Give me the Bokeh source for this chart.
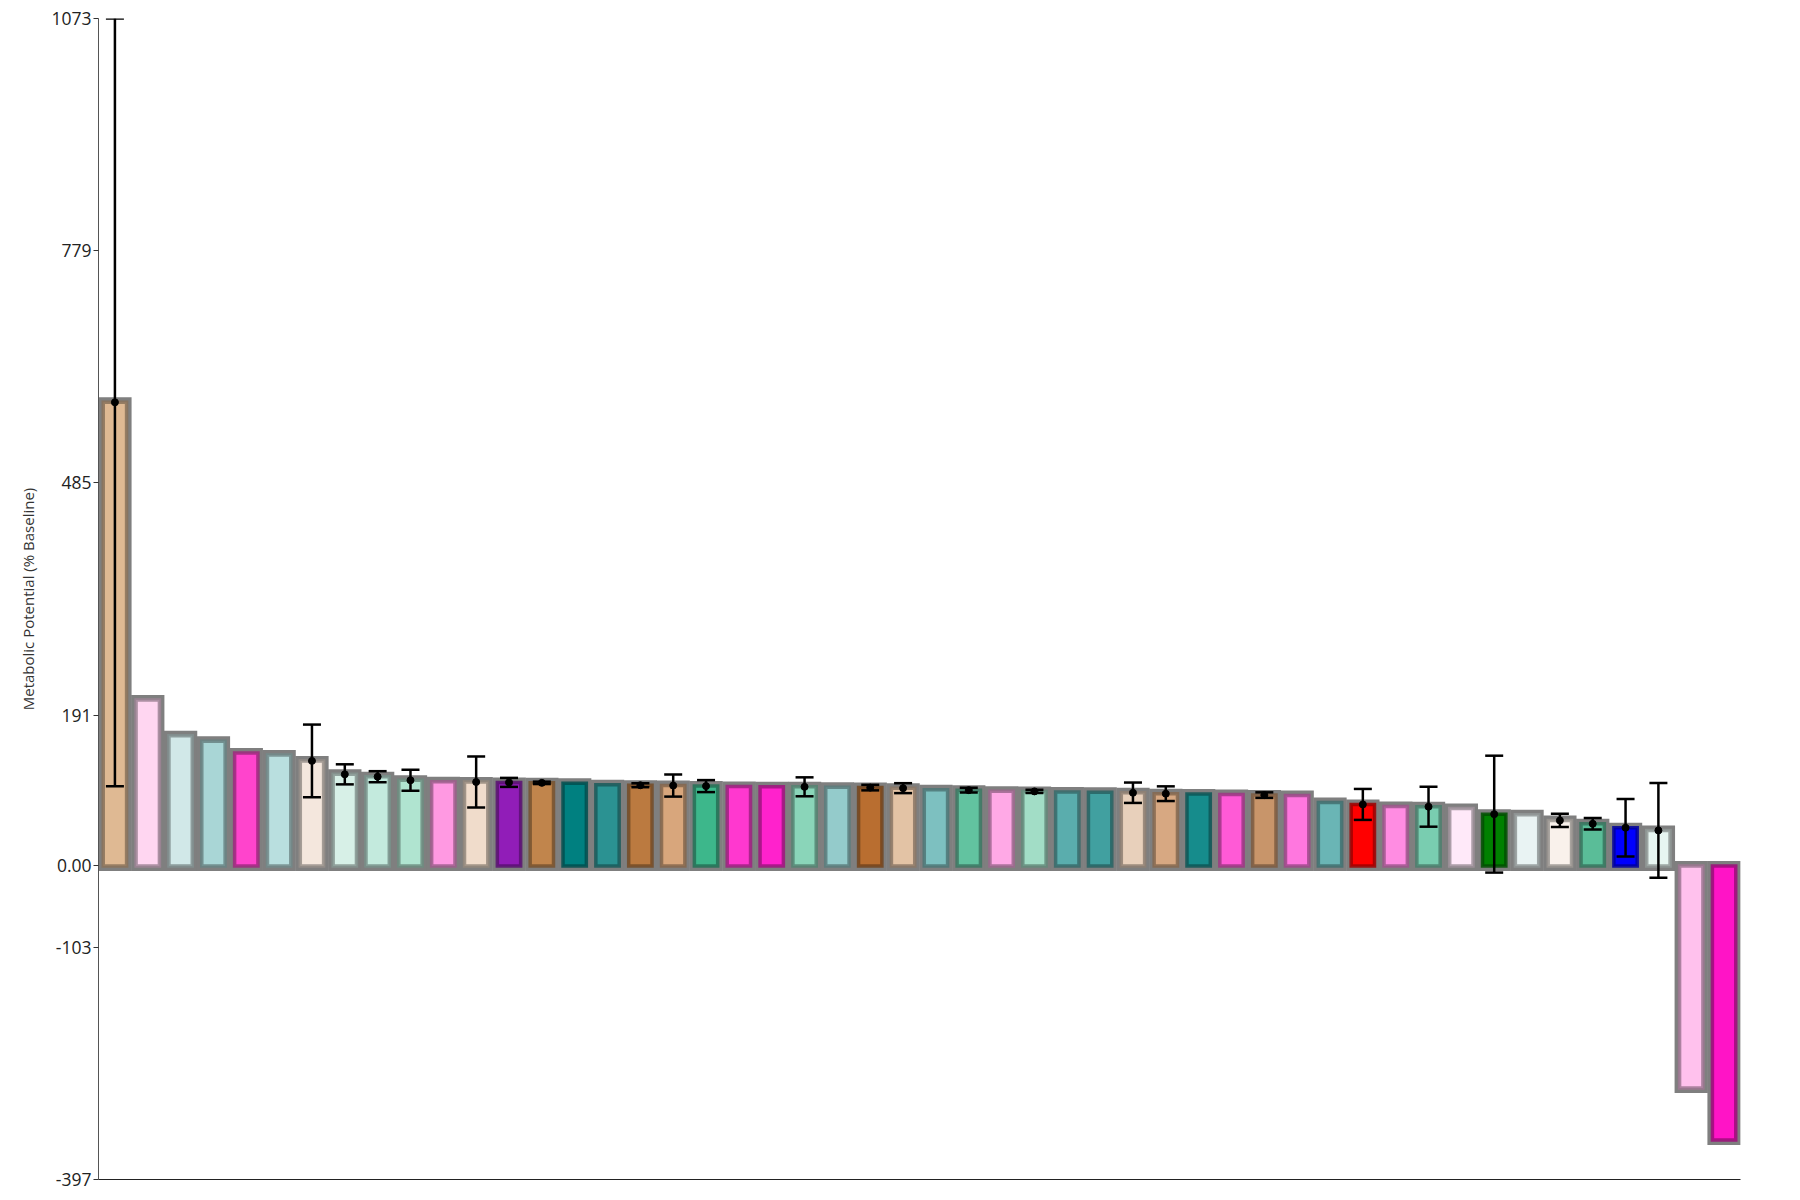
from bokeh.plotting import figure
from bokeh.models import ColumnDataSource, FixedTicker, Whisker, TeeHead, Range1d
from bokeh.embed import file_html
from bokeh.resources import INLINE

# ---- data ----
values = [587, 210, 165, 158, 143, 140.5, 133, 116, 113, 108.5,
          106.5, 106.3, 105.8, 105.2, 104.6, 102.8, 102.2, 101.8, 101.1, 100.7,
          100.4, 100.2, 99.6, 99.2, 98.5, 96.5, 96.0, 94.6, 94.4, 93.6,
          93.3, 92.7, 91.5, 91.0, 90.6, 89.7, 89.3, 80.4, 77.9, 75.4,
          75.0, 72.8, 65.6, 64.8, 57.6, 53.4, 48.4, 45.0, -281, -347]

errors = [486, None, None, None, None, None, 46, 12.7, 7, 13.3,
          None, 32.3, 5.7, 1.5, None, None, 2.5, 14, 7.6, None,
          None, 12, None, 3.5, 6.3, None, 3, None, 2, None,
          None, 12.9, 9.3, None, None, 3.5, None, None, 19.6, None,
          25.3, None, 74, None, 8.4, 7.2, 36.5, 60, None, None]

colors = ["#dfb993", "#ffd6f1", "#d1e8e8", "#a9d6d6", "#ff44cc", "#b9dfdf", "#f4e7dd", "#d7f0e7", "#c3eadd", "#b0e4d0",
          "#ff99e2", "#f0dccb", "#911db8", "#c1854c", "#008080", "#2b9292", "#bb7a40", "#d8a67c", "#3db78b", "#ff38cf",
          "#ff22cc", "#8ad5b9", "#94cbcb", "#b96e30", "#e3c3a5", "#7dc0c0", "#62c3a0", "#ffa9e6", "#a2ddc6", "#5aadad",
          "#41a0a0", "#e8d0bb", "#d7a882", "#168c8c", "#ff5ad6", "#c8956a", "#ff77df", "#6ab5b5", "#ff0000", "#ff8ce2",
          "#79cdb0", "#ffe9f9", "#008000", "#e9f3f3", "#f9f1eb", "#5abd98", "#0000ff", "#e7f6f1", "#ffc1ed", "#ff14c6"]

y_ticks = [1073, 779, 485, 191, 0, -103, -397]
y_tick_labels = ["1073", "779", "485", "191", "0.00", "-103", "-397"]
y_label = "Metabolic Potential (% Baseline)"


def darker(hexc, f=0.62):
    h = hexc.lstrip("#")
    r, g, b = (int(h[i:i + 2], 16) for i in (0, 2, 4))
    return "#%02x%02x%02x" % (int(r * f), int(g * f), int(b * f))


n = len(values)
xs = [i + 0.5 for i in range(n)]
src = ColumnDataSource(dict(x=xs, top=values, fill=colors, dark=[darker(c) for c in colors]))

idx = [i for i, e in enumerate(errors) if e is not None]
esrc = ColumnDataSource(dict(
    x=[xs[i] for i in idx],
    y=[values[i] for i in idx],
    upper=[values[i] + errors[i] for i in idx],
    lower=[values[i] - errors[i] for i in idx],
))

p = figure(width=1800, height=1200, output_backend="svg", toolbar_location=None,
           x_range=Range1d(0, n), y_range=Range1d(min(y_ticks), max(y_ticks)),
           min_border_left=98, min_border_right=60, min_border_top=18, min_border_bottom=21)
p.grid.visible = False
p.outline_line_color = None
p.background_fill_color = "white"

# outer gray border
p.vbar(x="x", top="top", bottom=0, width=0.71, source=src,
       fill_color=None, line_color="#7f7f7f", line_width=10, line_join="miter")
# coloured bar with darker inner border
p.vbar(x="x", top="top", bottom=0, width=0.71, source=src,
       fill_color="fill", line_color="dark", line_width=3.5, line_alpha=0.85, line_join="miter")

w = Whisker(base="x", upper="upper", lower="lower", source=esrc,
            line_color="black", line_width=2.5, level="overlay",
            upper_head=TeeHead(size=18, line_color="black", line_width=2.5),
            lower_head=TeeHead(size=18, line_color="black", line_width=2.5))
p.add_layout(w)
p.scatter("x", "y", source=esrc, size=7, color="black", level="overlay")

# y axis
p.yaxis.ticker = FixedTicker(ticks=y_ticks)
p.yaxis.major_label_overrides = {t: l for t, l in zip(y_ticks, y_tick_labels)}
p.yaxis.axis_label = y_label
p.yaxis.axis_label_text_font = "Open Sans"
p.yaxis.axis_label_text_font_size = "15px"
p.yaxis.axis_label_text_font_style = "normal"
p.yaxis.axis_label_text_color = "#333333"
p.yaxis.axis_label_standoff = 10
p.yaxis.major_label_text_font = "Open Sans"
p.yaxis.major_label_text_font_size = "17.5px"
p.yaxis.major_label_text_color = "#222222"
p.yaxis.major_label_standoff = 2
p.yaxis.major_tick_in = 0
p.yaxis.major_tick_out = 5
p.yaxis.minor_tick_line_color = None
p.yaxis.axis_line_color = "#555555"
p.yaxis.major_tick_line_color = "#333333"

# x axis: plain line only
p.xaxis.ticker = FixedTicker(ticks=[])
p.xaxis.major_tick_line_color = None
p.xaxis.minor_tick_line_color = None
p.xaxis.major_label_text_font_size = "0px"
p.xaxis.major_tick_out = 0
p.xaxis.major_label_standoff = 0
p.xaxis.axis_line_color = "#222222"

open("out.html", "w").write(file_html(p, INLINE))
